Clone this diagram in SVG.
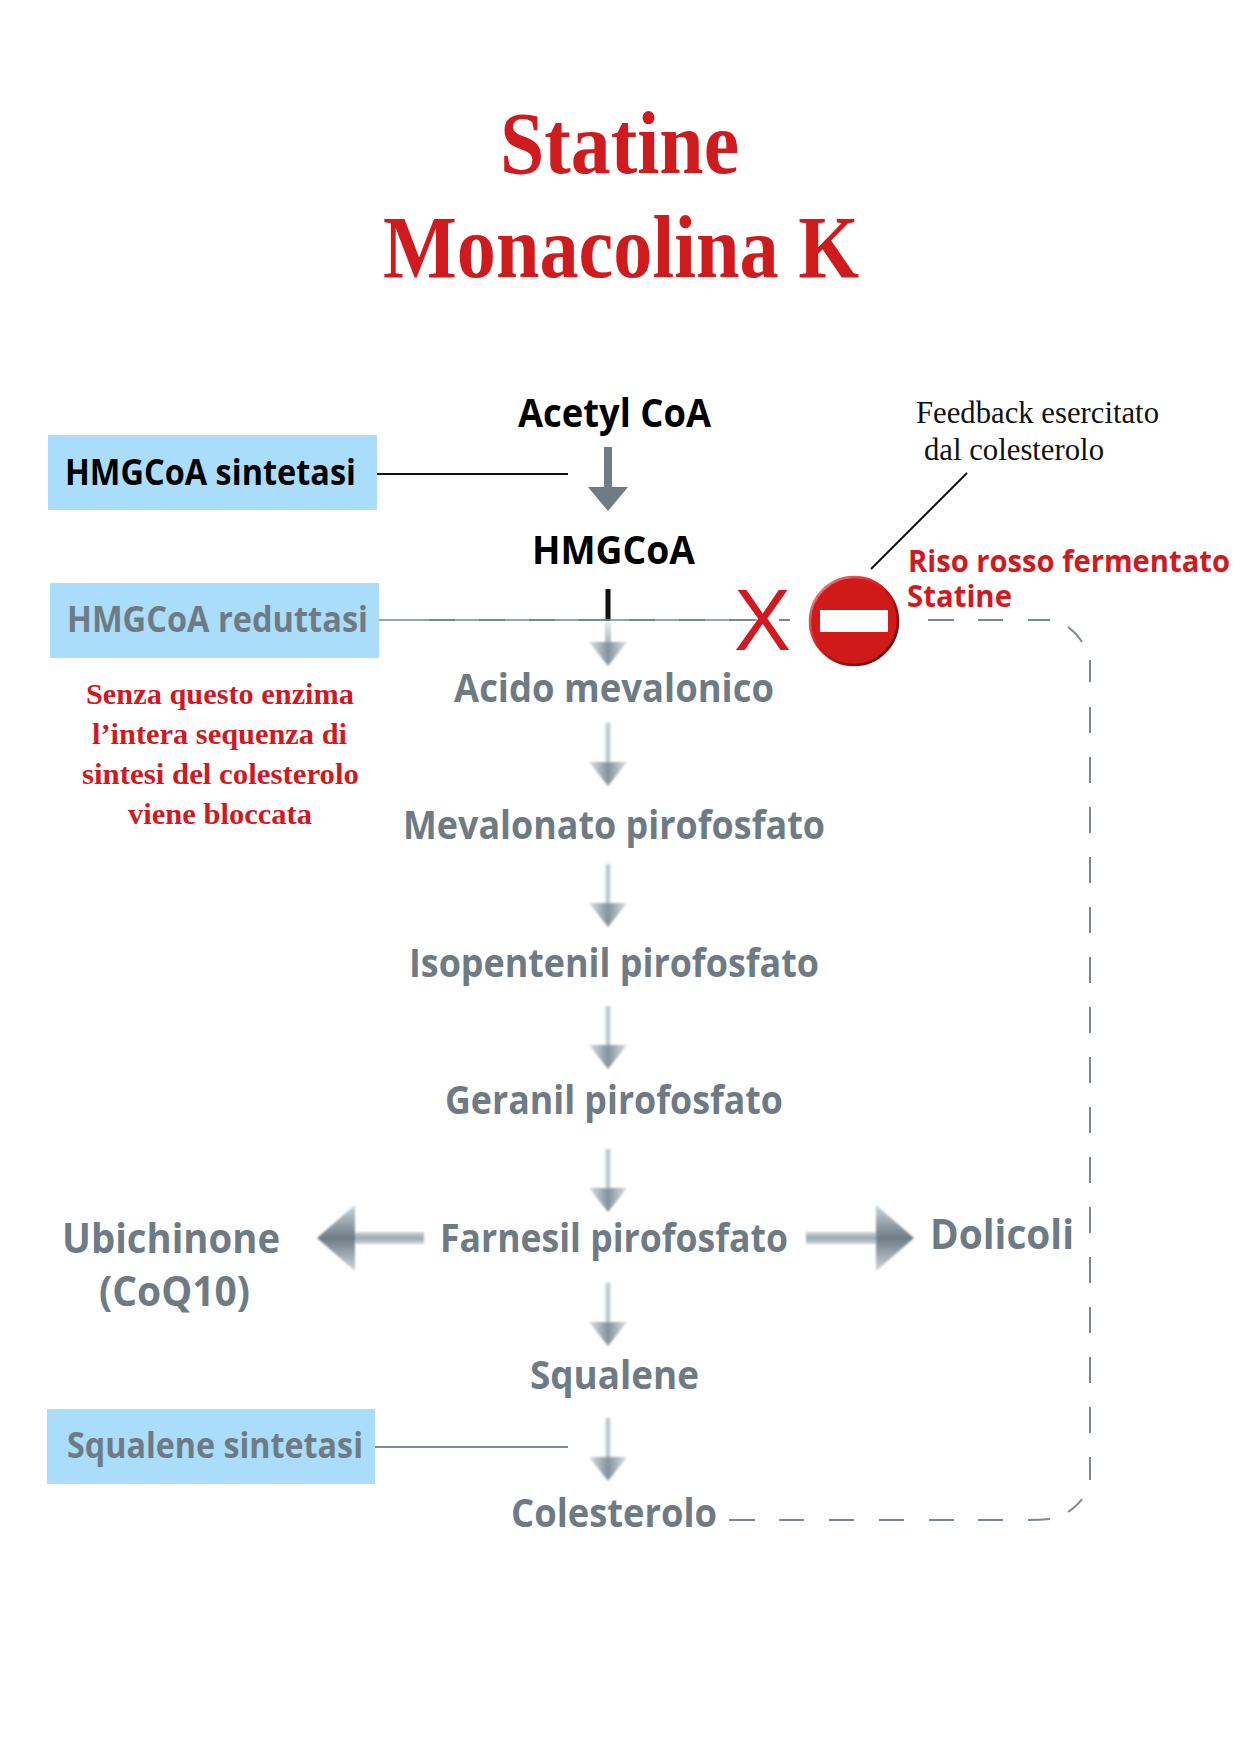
<svg xmlns="http://www.w3.org/2000/svg" xmlns:xlink="http://www.w3.org/1999/xlink" width="1240" height="1754" viewBox="0 0 1240 1754">
<style>
text{font-family:"Open Sans","Noto Sans",sans-serif;font-weight:700;text-anchor:start}
.title{font-family:"Liberation Serif",serif;font-weight:700;font-size:88px;fill:#cf1a1e}
.note{font-family:"Liberation Serif",serif;font-weight:700;font-size:29px;fill:#d01a1f}
.fb{font-family:"Liberation Serif",serif;font-weight:400;font-size:31px;fill:#111}
.blk{font-size:40px;fill:#000}
.gry{font-size:40px;fill:#6e7b84}
.box{fill:#a9ddf9}
.boxt{font-size:35px}
.red{font-size:30px;font-weight:700;fill:#d01a1f}
.dash{fill:none;stroke:#7a8790;stroke-width:2}
</style>
<defs>
<linearGradient id="sh" x1="0" y1="0" x2="1" y2="0"><stop offset="0" stop-color="#e3e8ea"/><stop offset=".5" stop-color="#b4c0c7"/><stop offset="1" stop-color="#e3e8ea"/></linearGradient>
<linearGradient id="hd" x1="0" y1="0" x2="1" y2="0"><stop offset="0" stop-color="#dbe1e5"/><stop offset=".5" stop-color="#84939c"/><stop offset="1" stop-color="#dbe1e5"/></linearGradient>
<linearGradient id="fade" x1="0" y1="0" x2="0" y2="1"><stop offset="0" stop-color="#e8ecee"/><stop offset="1" stop-color="#aab6bd"/></linearGradient>
<linearGradient id="shh" x1="0" y1="0" x2="0" y2="1"><stop offset="0" stop-color="#d0d7db"/><stop offset=".5" stop-color="#99a6ae"/><stop offset="1" stop-color="#d0d7db"/></linearGradient>
<linearGradient id="hdh" x1="0" y1="0" x2="0" y2="1"><stop offset="0" stop-color="#ccd4d9"/><stop offset=".5" stop-color="#6f7c85"/><stop offset="1" stop-color="#ccd4d9"/></linearGradient>
<linearGradient id="rim" x1="0" y1="0" x2="1" y2="1"><stop offset="0" stop-color="#ec9a9a"/><stop offset=".45" stop-color="#d01a1a"/><stop offset="1" stop-color="#4a0808"/></linearGradient>
<filter id="soft" x="-30%" y="-30%" width="160%" height="160%"><feGaussianBlur stdDeviation="1"/></filter>
<g id="down" filter="url(#soft)">
<rect x="-3" y="0" width="6" height="42" fill="url(#sh)"/>
<path d="M-19 39H19L0 63Z" fill="url(#hd)"/>
</g>
</defs>

<g id="title">
<text class="title" x="500" y="173" textLength="239" lengthAdjust="spacingAndGlyphs">Statine</text>
<text class="title" x="383" y="277" textLength="476" lengthAdjust="spacingAndGlyphs">Monacolina K</text>
</g>

<g id="connectors">
<line x1="377" y1="474" x2="568" y2="474" stroke="#111" stroke-width="2"/>
<line x1="375" y1="1447" x2="568" y2="1447" stroke="#7d8b98" stroke-width="2"/>
<path d="M604 447H612V487H628L608 511L588 487H604Z" fill="#6f7c85"/>
<rect x="605.500" y="589" width="5" height="32" fill="#111"/>
<g filter="url(#soft)">
<rect x="605" y="621" width="6" height="24" fill="url(#fade)"/>
<path d="M589 642H627L608 666Z" fill="url(#hd)"/>
</g>
<use xlink:href="#down" href="#down" x="608" y="723"/>
<use xlink:href="#down" href="#down" x="608" y="864"/>
<use xlink:href="#down" href="#down" x="608" y="1006"/>
<use xlink:href="#down" href="#down" x="608" y="1149"/>
<use xlink:href="#down" href="#down" x="608" y="1283"/>
<use xlink:href="#down" href="#down" x="608" y="1418"/>
<g filter="url(#soft)">
<rect x="353" y="1232" width="71" height="12" fill="url(#shh)"/>
<path d="M355 1205V1271L317 1238Z" fill="url(#hdh)"/>
<rect x="806" y="1232" width="72" height="12" fill="url(#shh)"/>
<path d="M876 1205V1271L914 1238Z" fill="url(#hdh)"/>
</g>
<line x1="379" y1="620" x2="757" y2="620" stroke="#7a8790" stroke-width="1.500"/>
<path class="dash" stroke-width="2.500" d="M429 620H455M479 620H505M529 620H555M579 620H605M629 620H655M679 620H705M729 620H755"/>
<path class="dash" d="M779 620H790M928 620H954M978 620H1003M1028 620H1050M1068 627Q1077 634 1082 642M1090 660V682M1090 707V733M1090 757V783M1090 807V833M1090 857V883M1090 907V933M1090 957V983M1090 1007V1033M1090 1057V1083M1090 1107V1133M1090 1157V1183M1090 1207V1233M1090 1257V1283M1090 1307V1333M1090 1357V1383M1090 1407V1433M1090 1457V1480M1082 1499Q1077 1506 1068 1512M1050 1519Q1040 1520 1028 1520M1003 1520H978M954 1520H929M904 1520H879M854 1520H829M804 1520H779M755 1520H729"/>
<line x1="967" y1="473" x2="871" y2="569" stroke="#111" stroke-width="2"/>
</g>

<g id="n-acetyl"><text class="blk" x="518" y="427" textLength="193" lengthAdjust="spacingAndGlyphs">Acetyl CoA</text></g>
<g id="n-hmgcoa"><text class="blk" x="532" y="564" textLength="163" lengthAdjust="spacingAndGlyphs">HMGCoA</text></g>
<g id="n-acido"><text class="gry" x="454" y="702" textLength="320" lengthAdjust="spacingAndGlyphs">Acido mevalonico</text></g>
<g id="n-mevalonato"><text class="gry" x="403" y="839" textLength="422" lengthAdjust="spacingAndGlyphs">Mevalonato pirofosfato</text></g>
<g id="n-isopentenil"><text class="gry" x="409" y="977" textLength="410" lengthAdjust="spacingAndGlyphs">Isopentenil pirofosfato</text></g>
<g id="n-geranil"><text class="gry" x="445" y="1114" textLength="338" lengthAdjust="spacingAndGlyphs">Geranil pirofosfato</text></g>
<g id="n-farnesil"><text class="gry" x="440" y="1252" textLength="348" lengthAdjust="spacingAndGlyphs">Farnesil pirofosfato</text></g>
<g id="n-squalene"><text class="gry" x="530" y="1389" textLength="169" lengthAdjust="spacingAndGlyphs">Squalene</text></g>
<g id="n-colesterolo"><text class="gry" x="511" y="1527" textLength="206" lengthAdjust="spacingAndGlyphs">Colesterolo</text></g>
<g id="n-ubichinone"><text class="gry" style="font-size:42px" x="62" y="1253" textLength="218" lengthAdjust="spacingAndGlyphs">Ubichinone</text>
<text class="gry" style="font-size:42px" x="99" y="1306" textLength="151" lengthAdjust="spacingAndGlyphs">(CoQ10)</text></g>
<g id="n-dolicoli"><text class="gry" style="font-size:42px" x="930" y="1249" textLength="144" lengthAdjust="spacingAndGlyphs">Dolicoli</text></g>

<g id="n-hmgcoa-sintetasi"><rect class="box" x="48" y="435" width="329" height="75"/>
<text class="boxt" fill="#000" x="65" y="485" textLength="291" lengthAdjust="spacingAndGlyphs">HMGCoA sintetasi</text></g>
<g id="n-hmgcoa-reduttasi"><rect class="box" x="50" y="583" width="329" height="75"/>
<text class="boxt" fill="#6e7b84" x="67" y="632" textLength="301" lengthAdjust="spacingAndGlyphs">HMGCoA reduttasi</text></g>
<g id="n-squalene-sintetasi"><rect class="box" x="47" y="1409" width="328" height="75"/>
<text class="boxt" fill="#6e7b84" x="67" y="1458" textLength="296" lengthAdjust="spacingAndGlyphs">Squalene sintetasi</text></g>

<g id="n-note">
<text class="note" x="86" y="704" textLength="268" lengthAdjust="spacingAndGlyphs">Senza questo enzima</text>
<text class="note" x="92" y="744" textLength="255" lengthAdjust="spacingAndGlyphs">l’intera sequenza di</text>
<text class="note" x="82" y="784" textLength="277" lengthAdjust="spacingAndGlyphs">sintesi del colesterolo</text>
<text class="note" x="128" y="824" textLength="184" lengthAdjust="spacingAndGlyphs">viene bloccata</text>
</g>

<g id="n-x"><text x="734" y="650" style="font-family:'Liberation Sans',sans-serif;font-weight:400;font-size:87px;fill:#d01a1f" textLength="57" lengthAdjust="spacingAndGlyphs">X</text></g>
<g id="n-stop">
<circle cx="854" cy="621" r="44" fill="#d01a1a" stroke="url(#rim)" stroke-width="2.500"/>
<rect x="820" y="610" width="68" height="22" fill="#fff"/>
</g>
<g id="n-feedback">
<text class="fb" x="916" y="423" textLength="243" lengthAdjust="spacingAndGlyphs">Feedback esercitato</text>
<text class="fb" x="924" y="460" textLength="180" lengthAdjust="spacingAndGlyphs">dal colesterolo</text>
</g>
<g id="n-riso">
<text class="red" x="908" y="572" textLength="322" lengthAdjust="spacingAndGlyphs">Riso rosso fermentato</text>
<text class="red" x="907" y="607" textLength="105" lengthAdjust="spacingAndGlyphs">Statine</text>
</g>
</svg>
